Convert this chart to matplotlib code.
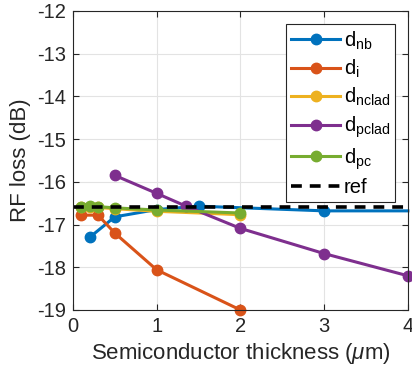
import matplotlib
matplotlib.use("Agg")
import matplotlib.pyplot as plt

plt.rcParams['font.family'] = ['Liberation Sans', 'DejaVu Sans']
plt.rcParams['mathtext.fontset'] = 'custom'
plt.rcParams['mathtext.rm'] = 'Liberation Sans'
plt.rcParams['mathtext.it'] = 'Liberation Sans:italic'
plt.rcParams['axes.unicode_minus'] = False

# data
x_nb = [0.2, 0.5, 1, 1.5, 3, 4]
y_nb = [-17.30, -16.82, -16.65, -16.57, -16.68, -16.68]
x_i = [0.1, 0.3, 0.5, 1, 2]
y_i = [-16.78, -16.78, -17.20, -18.06, -19.00]
x_nclad = [0.1, 0.2, 0.3, 0.5, 1, 2]
y_nclad = [-16.60, -16.58, -16.60, -16.63, -16.69, -16.77]
x_pclad = [0.5, 1, 1.35, 2, 3, 4]
y_pclad = [-15.85, -16.27, -16.57, -17.09, -17.68, -18.20]
x_pc = [0.1, 0.2, 0.3, 0.5, 1, 2]
y_pc = [-16.58, -16.56, -16.58, -16.61, -16.66, -16.73]
ref = -16.58

colors = ['#0072BD', '#D95319', '#EDB120', '#7E2F8E', '#77AC30']

fig = plt.figure(figsize=(4.12, 3.78), dpi=100)
ax = fig.add_axes([0.177, 0.180, 0.813, 0.791])

series = [(x_nb, y_nb, r'd$_\mathrm{nb}$'), (x_i, y_i, r'd$_\mathrm{i}$'),
          (x_nclad, y_nclad, r'd$_\mathrm{nclad}$'), (x_pclad, y_pclad, r'd$_\mathrm{pclad}$'),
          (x_pc, y_pc, r'd$_\mathrm{pc}$')]
for k, ((xs, ys, lab), c) in enumerate(zip(series, colors)):
    me = list(range(len(xs) - 1)) if k == 0 else None
    ax.plot(xs, ys, '-o', color=c, lw=2.2, ms=7.5, label=lab, clip_on=False,
            markevery=me)
ax.axhline(ref, color='k', ls=(0, (3, 2.2)), lw=2.6, label='ref')

ax.set_xlim(0, 4)
ax.set_ylim(-19, -12)
ax.set_xticks([0, 1, 2, 3, 4])
ax.set_yticks(range(-19, -11))
ax.grid(True, color='#e3e3e3', lw=0.8)
ax.set_axisbelow(True)
ax.tick_params(direction='in', labelsize=14.5, length=4, colors='#262626',
               top=True, right=True, pad=5)
for s in ax.spines.values():
    s.set_color('#262626')
    s.set_linewidth(0.8)
ax.set_xlabel(r'Semiconductor thickness ($\mu$m)', fontsize=16, color='#262626',
              labelpad=4)
ax.set_ylabel('RF loss (dB)', fontsize=16, color='#262626', labelpad=4)

leg = ax.legend(loc='upper right', bbox_to_anchor=(0.962, 0.955), fontsize=14.5,
                handlelength=2.4, fancybox=False, framealpha=1,
                edgecolor='#262626', borderpad=0.25, labelspacing=0.3,
                handletextpad=0.2, borderaxespad=0)
leg.get_frame().set_linewidth(0.8)

fig.savefig('out.png', dpi=100)
